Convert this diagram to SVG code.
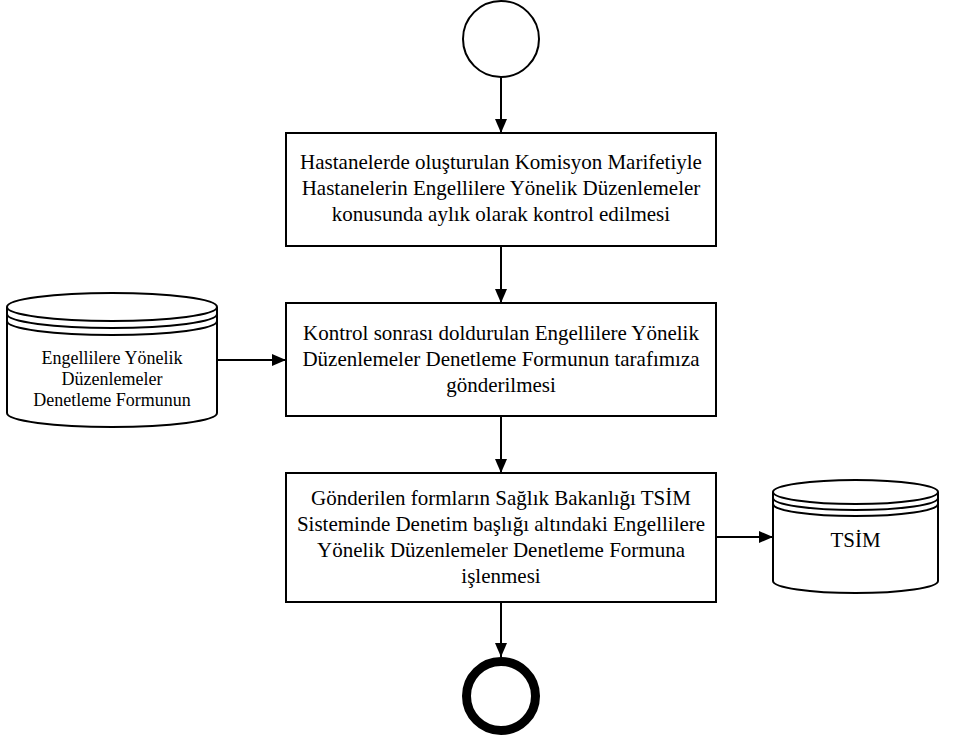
<svg xmlns="http://www.w3.org/2000/svg" width="958" height="737" viewBox="0 0 958 737">
  <style>
    .shape { fill: #ffffff; stroke: #000000; stroke-width: 2; }
    .line { fill: none; stroke: #000000; stroke-width: 2; }
    text { font-family: "Liberation Serif", "DejaVu Serif", serif; font-size: 21px; fill: #000000; text-anchor: middle; }
    .small { font-size: 18px; }
  </style>
  <defs>
    <marker id="arrow" viewBox="0 0 14 12" refX="14" refY="6" markerWidth="14" markerHeight="12" markerUnits="userSpaceOnUse" orient="auto">
      <path d="M0,0 L14,6 L0,12 Z" fill="#000000"/>
    </marker>
  </defs>

  <!-- connectors -->
  <g id="connectors">
    <line class="line" x1="501" y1="77" x2="501" y2="133" marker-end="url(#arrow)"/>
    <line class="line" x1="501" y1="246" x2="501" y2="303" marker-end="url(#arrow)"/>
    <line class="line" x1="501" y1="416" x2="501" y2="473" marker-end="url(#arrow)"/>
    <line class="line" x1="501" y1="602" x2="501" y2="657" marker-end="url(#arrow)"/>
    <line class="line" x1="217" y1="360" x2="286" y2="360" marker-end="url(#arrow)"/>
    <line class="line" x1="716" y1="537" x2="773" y2="537" marker-end="url(#arrow)"/>
  </g>

  <!-- start event -->
  <g id="start">
    <circle class="shape" cx="501" cy="39" r="38"/>
  </g>

  <!-- process steps -->
  <g id="step1">
    <rect class="shape" x="286" y="133" width="430" height="113"/>
    <text font-family="Liberation Serif, serif" x="501" y="169">Hastanelerde oluşturulan Komisyon Marifetiyle</text>
    <text font-family="Liberation Serif, serif" x="501" y="195">Hastanelerin Engellilere Yönelik Düzenlemeler</text>
    <text font-family="Liberation Serif, serif" x="501" y="221">konusunda aylık olarak kontrol edilmesi</text>
  </g>

  <g id="step2">
    <rect class="shape" x="286" y="303" width="430" height="113"/>
    <text x="501" y="340">Kontrol sonrası doldurulan Engellilere Yönelik</text>
    <text x="501" y="366">Düzenlemeler Denetleme Formunun tarafımıza</text>
    <text x="501" y="392">gönderilmesi</text>
  </g>

  <g id="step3">
    <rect class="shape" x="286" y="473" width="430" height="129"/>
    <text x="501" y="505">Gönderilen formların Sağlık Bakanlığı TSİM</text>
    <text x="501" y="531">Sisteminde Denetim başlığı altındaki Engellilere</text>
    <text x="501" y="557">Yönelik Düzenlemeler Denetleme Formuna</text>
    <text x="501" y="583">işlenmesi</text>
  </g>

  <!-- data store: form -->
  <g id="store-form">
    <path class="shape" d="M7,307 L7,413 A105,14 0 0 0 217,413 L217,307"/>
    <ellipse class="shape" cx="112" cy="307" rx="105" ry="14"/>
    <path class="line" d="M7,314 A105,14 0 0 0 217,314"/>
    <path class="line" d="M7,321 A105,14 0 0 0 217,321"/>
    <text class="small" x="112" y="364">Engellilere Yönelik</text>
    <text class="small" x="112" y="385">Düzenlemeler</text>
    <text class="small" x="112" y="406">Denetleme Formunun</text>
  </g>

  <!-- data store: TSİM -->
  <g id="store-tsim">
    <path class="shape" d="M773,492 L773,581 A82.5,12 0 0 0 938,581 L938,492"/>
    <ellipse class="shape" cx="855.5" cy="492" rx="82.5" ry="12"/>
    <path class="line" d="M773,498 A82.5,12 0 0 0 938,498"/>
    <path class="line" d="M773,504 A82.5,12 0 0 0 938,504"/>
    <text x="855.5" y="547">TSİM</text>
  </g>

  <!-- end event -->
  <g id="end">
    <circle cx="501" cy="696" r="34.5" fill="#ffffff" stroke="#000000" stroke-width="9"/>
  </g>
</svg>
